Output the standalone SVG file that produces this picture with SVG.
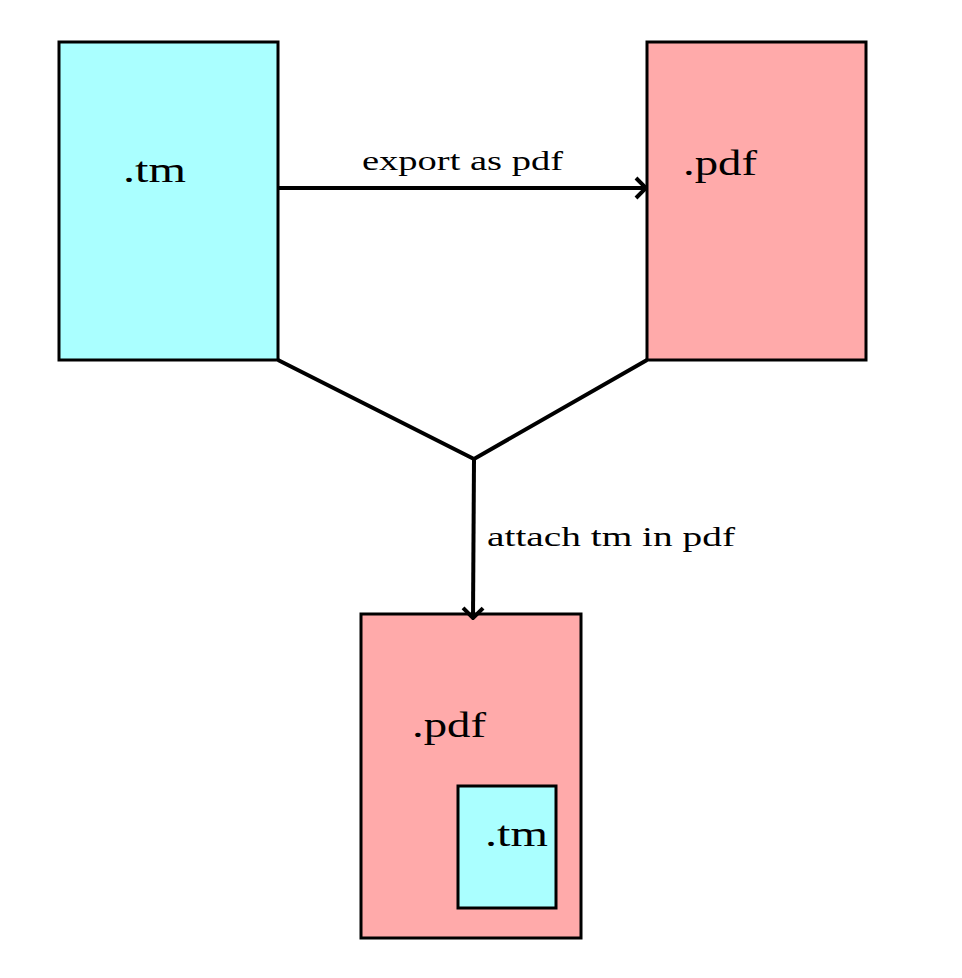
<svg xmlns="http://www.w3.org/2000/svg" width="962" height="978" viewBox="0 0 962 978">
<style>
.box{stroke:#000;stroke-width:3}
.tm{fill:#aaffff}
.pdf{fill:#ffaaaa}
.lbl{font-family:"Liberation Serif","DejaVu Serif",serif;fill:#000}
.big{font-size:36px}
.small{font-size:27px}
.conn{fill:none;stroke:#000;stroke-width:4}
</style>
<defs>
<marker id="arr" viewBox="0 0 14 24" refX="12" refY="12" markerWidth="14" markerHeight="24" markerUnits="userSpaceOnUse" orient="auto">
<path d="M2,2 L12,12 L2,22" fill="none" stroke="#000" stroke-width="4"/>
</marker>
</defs>
<rect width="962" height="978" fill="#fff"/>
<g id="node-tm">
<rect class="box tm" x="59" y="42" width="219" height="318"/>
<text class="lbl big" x="123" y="182" textLength="63" lengthAdjust="spacingAndGlyphs">.tm</text>
</g>
<g id="node-pdf">
<rect class="box pdf" x="647" y="42" width="219" height="318"/>
<text class="lbl big" x="683" y="175" textLength="74" lengthAdjust="spacingAndGlyphs">.pdf</text>
</g>
<g id="node-pdf-tm">
<rect class="box pdf" x="361" y="614" width="220" height="324"/>
<text class="lbl big" x="412" y="737" textLength="74" lengthAdjust="spacingAndGlyphs">.pdf</text>
<g id="node-inner-tm">
<rect class="box tm" x="458" y="786" width="98" height="122"/>
<text class="lbl big" x="485" y="846" textLength="63" lengthAdjust="spacingAndGlyphs">.tm</text>
</g>
</g>
<g id="connectors">
<line class="conn" x1="278" y1="188" x2="646" y2="188" marker-end="url(#arr)"/>
<text class="lbl small" x="362" y="170" textLength="201" lengthAdjust="spacingAndGlyphs">export as pdf</text>
<polyline class="conn" points="278,360 474,459 647,360"/>
<line class="conn" x1="474" y1="459" x2="473" y2="618" marker-end="url(#arr)"/>
<text class="lbl small" x="487" y="546" textLength="248" lengthAdjust="spacingAndGlyphs">attach tm in pdf</text>
</g>
</svg>
